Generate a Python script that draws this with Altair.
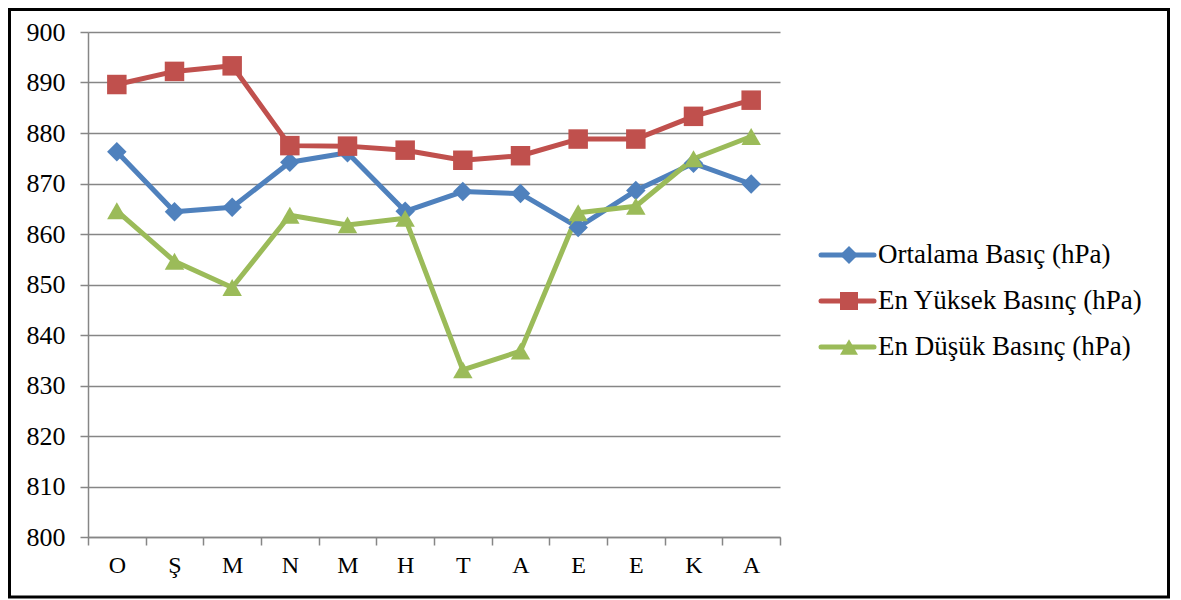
import altair as alt
import pandas as pd

months = ["O", "Ş", "M", "N", "M", "H", "T", "A", "E", "E", "K", "A"]
series_names = ["Ortalama Basıç (hPa)", "En Yüksek Basınç (hPa)", "En Düşük Basınç (hPa)"]
ortalama = [876.3, 864.4, 865.3, 874.2, 876.1, 864.5, 868.4, 868.0, 861.3, 868.6, 874.0, 869.9]
yuksek = [889.6, 892.2, 893.3, 877.5, 877.4, 876.6, 874.6, 875.5, 878.8, 878.8, 883.3, 886.5]
dusuk = [864.6, 854.6, 849.4, 863.7, 861.8, 863.1, 833.1, 836.8, 864.2, 865.5, 874.9, 879.3]
colors = ["#4F81BD", "#C0504D", "#9BBB59"]
shapes = ["diamond", "square", "triangle-up"]
y_ticks = list(range(800, 901, 10))

rows = []
for name, vals in zip(series_names, [ortalama, yuksek, dusuk]):
    for i, v in enumerate(vals):
        rows.append({"idx": i, "seri": name, "deger": v})
df = pd.DataFrame(rows)
leg_df = pd.DataFrame({"seri": series_names, "sira": list(range(len(series_names)))})

FONT = "Liberation Serif"
GRID = "#868686"

label_expr = "[" + ",".join("'" + m + "'" for m in months) + "][datum.value]"

x_enc = alt.X(
    "idx:O",
    bandPosition=0.5,
    scale=alt.Scale(type="band", paddingInner=0, paddingOuter=0),
    axis=alt.Axis(
        title=None, grid=False, tickBand="extent", labelExpr=label_expr,
        labelAngle=0, labelFont=FONT, labelFontSize=24, labelColor="black",
        labelPadding=8, tickSize=8, tickColor=GRID, tickWidth=1.5,
        domainColor=GRID, domainWidth=1.5,
    ),
)
y_enc = alt.Y(
    "deger:Q",
    scale=alt.Scale(domain=[800, 900], nice=False, zero=False),
    axis=alt.Axis(
        title=None, values=y_ticks, labelFont=FONT, labelFontSize=26,
        labelColor="black", labelPadding=15, tickSize=8, tickColor=GRID,
        tickWidth=1.5, domainColor=GRID, domainWidth=1.5, gridColor=GRID,
        gridWidth=1.5,
    ),
)
color_enc = alt.Color("seri:N", scale=alt.Scale(domain=series_names, range=colors), legend=None)
shape_enc = alt.Shape("seri:N", scale=alt.Scale(domain=series_names, range=shapes), legend=None)

base = alt.Chart(df)
lines = base.mark_line(strokeWidth=5, strokeJoin="round").encode(
    x=x_enc, y=y_enc, color=color_enc, order="idx:Q"
)
points = base.mark_point(filled=True, size=380, opacity=1).encode(
    x=x_enc, y=y_enc, color=color_enc, shape=shape_enc,
)
plot = alt.layer(lines, points)

# legend (drawn as marks)
leg_y = alt.Y("sira:Q", scale=alt.Scale(domain=[0, 2], range=[223, 315]), axis=None)
leg_base = alt.Chart(leg_df)
leg_rule = leg_base.mark_rule(strokeWidth=5, strokeCap="round").encode(
    x=alt.value(733), x2=alt.value(786), y=leg_y, color=color_enc
)
leg_pts = leg_base.mark_point(filled=True, size=324, opacity=1).encode(
    x=alt.value(761), y=leg_y, color=color_enc, shape=shape_enc
)
leg_txt = leg_base.mark_text(
    align="left", baseline="middle", font=FONT, fontSize=27, color="black"
).encode(x=alt.value(790), y=leg_y, text="seri:N")
legend = alt.layer(leg_rule, leg_pts, leg_txt)

border = alt.Chart(alt.Data(values=[{"b": 1}])).mark_rect(
    fill=None, stroke="black", strokeWidth=3, clip=False
).encode(
    x=alt.value(-78.5), x2=alt.value(1080.5), y=alt.value(-22.5), y2=alt.value(565)
)

chart = alt.layer(plot, legend, border).resolve_scale(
    y="independent"
).properties(
    width=692, height=505,
    autosize=alt.AutoSizeParams(type="none"),
    padding={"left": 80, "top": 24, "right": 390, "bottom": 62},
    background="white",
).configure_view(stroke=None)

chart.save("out.html", embed_options={"renderer": "svg", "actions": False})
